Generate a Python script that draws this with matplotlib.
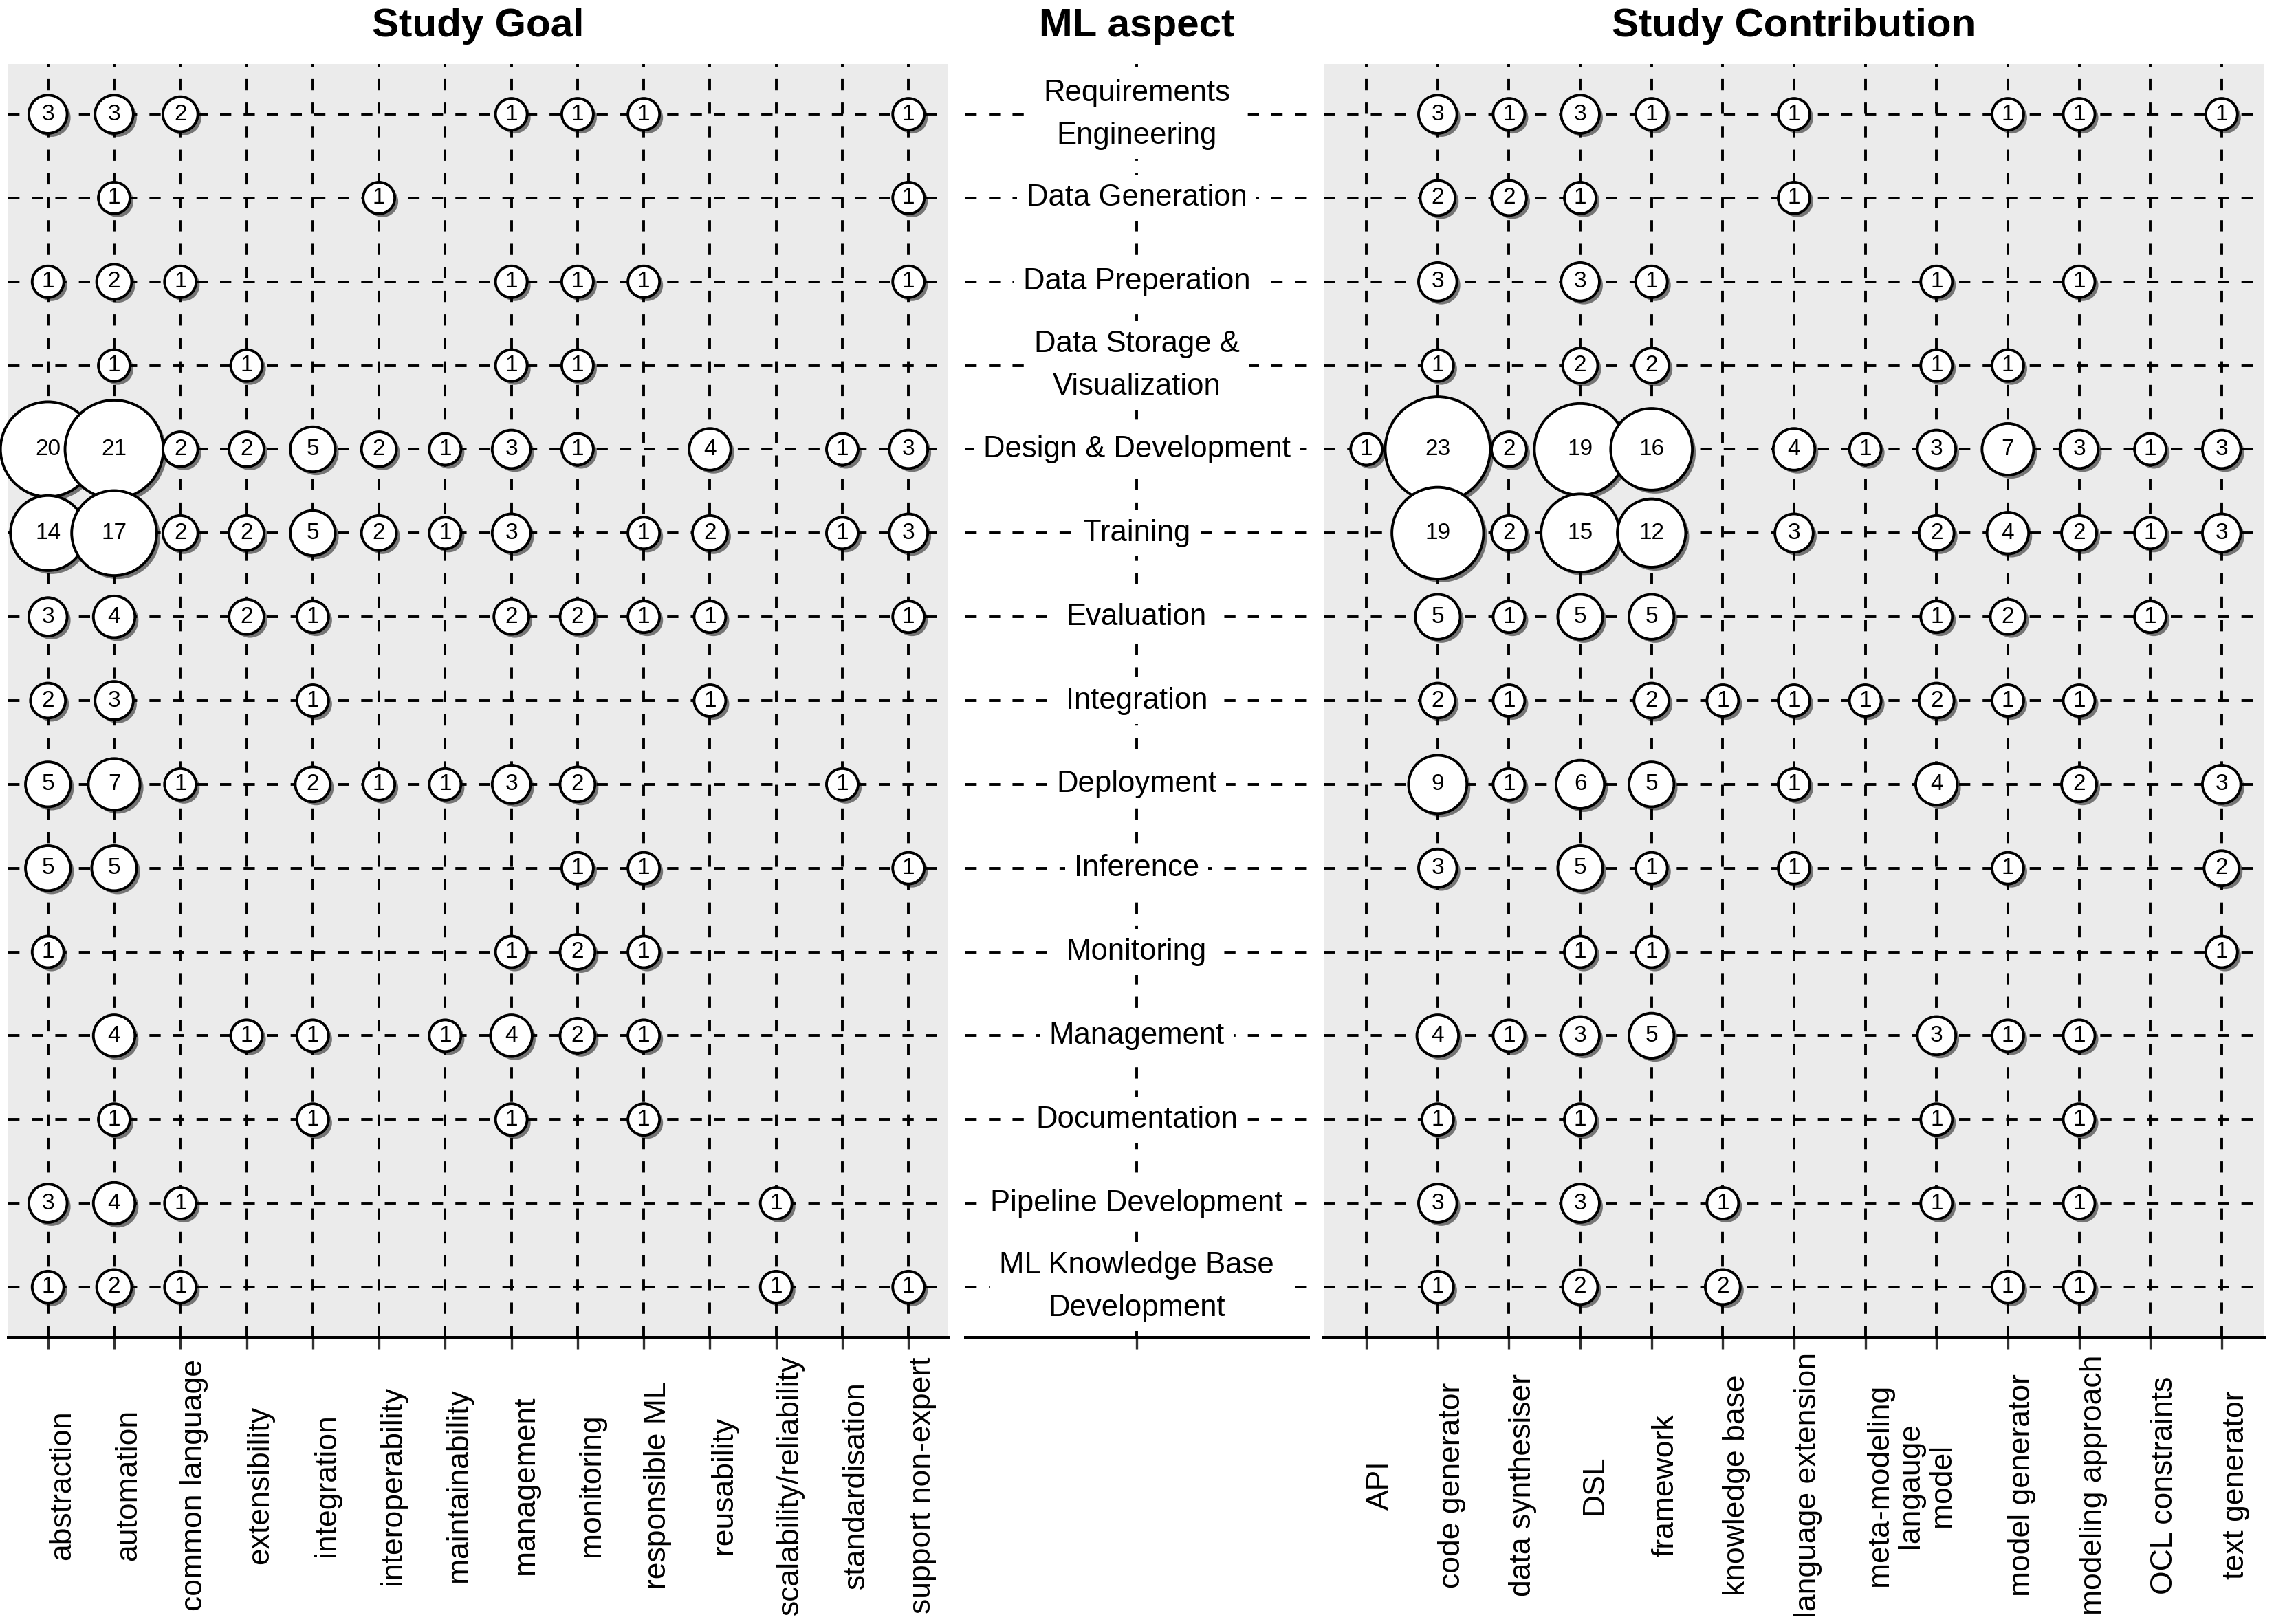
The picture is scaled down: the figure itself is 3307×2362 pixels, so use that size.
import matplotlib
matplotlib.use("Agg")
import matplotlib.pyplot as plt
import matplotlib.patheffects as pe
import matplotlib.transforms as mtransforms
import numpy as np

plt.rcParams['font.family'] = ['Liberation Sans', 'DejaVu Sans']

# ML aspects (rows, top to bottom)
aspects = ["Requirements\nEngineering", "Data Generation", "Data Preperation",
           "Data Storage &\nVisualization", "Design & Development", "Training",
           "Evaluation", "Integration", "Deployment", "Inference", "Monitoring",
           "Management", "Documentation", "Pipeline Development",
           "ML Knowledge Base\nDevelopment"]

goals = ["abstraction", "automation", "common language", "extensibility",
         "integration", "interoperability", "maintainability", "management",
         "monitoring", "responsible ML", "reusability", "scalability/reliability",
         "standardisation", "support non-expert"]

contributions = ["API", "code generator", "data synthesiser", "DSL", "framework",
                 "knowledge base", "language extension",
                 "meta-modeling\nlangauge\nmodel", "", "model generator",
                 "modeling approach", "OCL constraints", "text generator"]

# number of studies per aspect (row) and study goal (column)
goal_counts = [
    [3, 3, 2, 0, 0, 0, 0, 1, 1, 1, 0, 0, 0, 1],
    [0, 1, 0, 0, 0, 1, 0, 0, 0, 0, 0, 0, 0, 1],
    [1, 2, 1, 0, 0, 0, 0, 1, 1, 1, 0, 0, 0, 1],
    [0, 1, 0, 1, 0, 0, 0, 1, 1, 0, 0, 0, 0, 0],
    [20, 21, 2, 2, 5, 2, 1, 3, 1, 0, 4, 0, 1, 3],
    [14, 17, 2, 2, 5, 2, 1, 3, 0, 1, 2, 0, 1, 3],
    [3, 4, 0, 2, 1, 0, 0, 2, 2, 1, 1, 0, 0, 1],
    [2, 3, 0, 0, 1, 0, 0, 0, 0, 0, 1, 0, 0, 0],
    [5, 7, 1, 0, 2, 1, 1, 3, 2, 0, 0, 0, 1, 0],
    [5, 5, 0, 0, 0, 0, 0, 0, 1, 1, 0, 0, 0, 1],
    [1, 0, 0, 0, 0, 0, 0, 1, 2, 1, 0, 0, 0, 0],
    [0, 4, 0, 1, 1, 0, 1, 4, 2, 1, 0, 0, 0, 0],
    [0, 1, 0, 0, 1, 0, 0, 1, 0, 1, 0, 0, 0, 0],
    [3, 4, 1, 0, 0, 0, 0, 0, 0, 0, 0, 1, 0, 0],
    [1, 2, 1, 0, 0, 0, 0, 0, 0, 0, 0, 1, 0, 1],
]

# number of studies per aspect (row) and study contribution (column)
contribution_counts = [
    [0, 3, 1, 3, 1, 0, 1, 0, 0, 1, 1, 0, 1],
    [0, 2, 2, 1, 0, 0, 1, 0, 0, 0, 0, 0, 0],
    [0, 3, 0, 3, 1, 0, 0, 0, 1, 0, 1, 0, 0],
    [0, 1, 0, 2, 2, 0, 0, 0, 1, 1, 0, 0, 0],
    [1, 23, 2, 19, 16, 0, 4, 1, 3, 7, 3, 1, 3],
    [0, 19, 2, 15, 12, 0, 3, 0, 2, 4, 2, 1, 3],
    [0, 5, 1, 5, 5, 0, 0, 0, 1, 2, 0, 1, 0],
    [0, 2, 1, 0, 2, 1, 1, 1, 2, 1, 1, 0, 0],
    [0, 9, 1, 6, 5, 0, 1, 0, 4, 0, 2, 0, 3],
    [0, 3, 0, 5, 1, 0, 1, 0, 0, 1, 0, 0, 2],
    [0, 0, 0, 1, 1, 0, 0, 0, 0, 0, 0, 0, 1],
    [0, 4, 1, 3, 5, 0, 0, 0, 3, 1, 1, 0, 0],
    [0, 1, 0, 1, 0, 0, 0, 0, 1, 0, 1, 0, 0],
    [0, 3, 0, 3, 0, 1, 0, 0, 1, 0, 1, 0, 0],
    [0, 1, 0, 2, 0, 2, 0, 0, 0, 1, 1, 0, 0],
]

DPI = 200
W, H = 3307, 2362
fig = plt.figure(figsize=(W / DPI, H / DPI), dpi=DPI)

TOP, BOTTOM = 93, 1945
DASH = (0, (4.2, 4.6))
GREY = "#EBEBEB"
LABEL_Y = 1 - 2160 / H
nrow = len(aspects)


def px_box(x0, x1):
    return [x0 / W, 1 - BOTTOM / H, (x1 - x0) / W, (BOTTOM - TOP) / H]


def base_axes(ax, xticks):
    ax.set_ylim(nrow - 0.4, -0.6)
    ax.set_xticks(xticks)
    ax.set_xticklabels([])
    ax.set_yticks(range(nrow))
    ax.tick_params(axis='y', length=0, labelleft=False)
    ax.tick_params(axis='x', length=6, width=1.2, color='#333333')
    for s in ['top', 'left', 'right']:
        ax.spines[s].set_visible(False)
    ax.spines['bottom'].set_linewidth(1.8)
    ax.grid(True, color='black', linestyle=DASH, linewidth=1.4)
    ax.set_axisbelow(True)


def bubble_panel(ax, labels, counts):
    counts = np.array(counts)
    ncol = len(labels)
    ax.set_facecolor(GREY)
    ax.set_xlim(-0.6, ncol - 0.4)
    base_axes(ax, range(ncol))

    rows, cols = np.nonzero(counts)
    vals = counts[rows, cols]
    diam_px = 46 + 4.85 * (vals - 1)
    ax.scatter(cols, rows, s=(diam_px * 72 / DPI) ** 2, c='white',
               edgecolors='black', linewidths=1.4, zorder=3, clip_on=False,
               path_effects=[pe.SimplePatchShadow(offset=(1.8, -1.8),
                                                  shadow_rgbFace='black',
                                                  alpha=0.5),
                             pe.Normal()])
    for r, c, v in zip(rows, cols, vals):
        ax.text(c, r, str(v), ha='center', va='center', fontsize=12, zorder=4)

    trans = mtransforms.blended_transform_factory(ax.transData, fig.transFigure)
    for i, lab in enumerate(labels):
        ax.text(i, LABEL_Y, lab, transform=trans, rotation=90,
                rotation_mode='anchor', ha='center', va='top',
                multialignment='center', fontsize=16, linespacing=1.15)


ax_goal = fig.add_axes(px_box(12, 1379))
bubble_panel(ax_goal, goals, goal_counts)

ax_mid = fig.add_axes(px_box(1404, 1902))
ax_mid.set_xlim(0, 1)
base_axes(ax_mid, [0.5])
for i, a in enumerate(aspects):
    ax_mid.text(0.5, i, a, ha='center', va='center', fontsize=15.7,
                linespacing=1.65, zorder=3,
                bbox=dict(boxstyle='square,pad=0.3', fc='white', ec='none'))

ax_con = fig.add_axes(px_box(1925, 3293))
bubble_panel(ax_con, contributions, contribution_counts)

title_y = 1 - 38 / H
fig.text((12 + 1379) / 2 / W, title_y, "Study Goal", ha='center', va='center',
         fontsize=21, fontweight='bold')
fig.text(1653 / W, title_y, "ML aspect", ha='center', va='center',
         fontsize=21, fontweight='bold')
fig.text((1925 + 3293) / 2 / W, title_y, "Study Contribution", ha='center',
         va='center', fontsize=21, fontweight='bold')

fig.savefig("out.png", dpi=DPI, facecolor='white')
